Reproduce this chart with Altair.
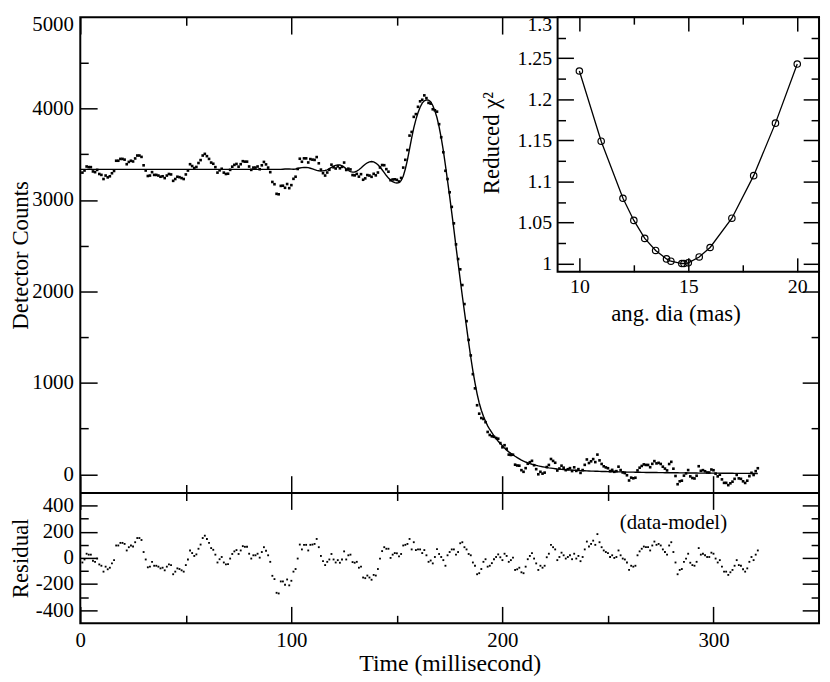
import altair as alt
import pandas as pd

FONT = "Liberation Serif"

# ---------------- data ----------------
# residual (data - model), one sample per millisecond starting at t = 1 ms
RESID = [
    -35, -12, 32, 25, 25, -22, -30, -5, -50, -60,
    -105, -67, -87, -75, -42, -17, 95, 95, 115, 115,
    107, 57, 82, 95, 87, 120, 152, 152, 137, 45,
    -12, -72, -67, -30, -60, -60, -67, -80, -75, -95,
    -67, -50, -55, -125, -105, -80, -85, -95, -105, -55,
    -12, 57, 37, 15, 27, 70, 102, 152, 170, 145,
    115, 75, 62, 25, -35, -10, 7, -35, -50, -47,
    -5, 30, 50, 60, 30, 57, 90, 85, 85, 32,
    -5, 20, 20, 32, 2, 45, 82, 55, 20, -30,
    -137, -162, -267, -272, -180, -180, -205, -165, -210, -175,
    -105, -85, -5, 102, 65, 100, 100, 57,
    100, 102, 107, 145, 82, 15, -25, -55, -30, -12,
    30, -12, -35, -17, -37, -12, 50, -12, 20, 25,
    -32, -37, -30, -75, -67, -150, -155, -135, -150, -167,
    -130, -135, -85, -5, 52, 82, 70, 70, 0, 25,
    37, 35, 12, 30, 95, 100, 107, 145, 65, 120,
    60, 65, 65, 37, 60, 20, -30, -20, -42, 7,
    67, 30, 7, -17, -60, 20, 45, 65, 65, 25,
    45, 112, 120, 82, 65, 30, 20, -35, -60, -125,
    -117, -85, -30, -10, -67, -60, -40, -10, 7, 27,
    5, -17, 32, 15, -30, -17, 2, -92, -87, -75,
    -110, -117, -67, -10, 15, 37, -5,
    -42, -92, -60, -75, -60, 5, 32, 100, 82, 65,
    -17, 7, 40, 20, -5, 7, 20, -10, 32, -5,
    15, -25, 7, 65, 125, 87, 107, 132, 100, 182,
    120, 82, 57, 45, 37, 7, 20, 0, 7, 57,
    20, -5, -12, -35, -92, -60, -67, -60, 20, 50,
    70, 87, 82, 82, 57, 95, 125, 100, 107, 95,
    65, 45, 25, 95, 120, 45, -35, -125, -92, -85,
    -30, -5, 32, -37, -55, -60, -30, 75, 25, 32,
    20, 7, 7, 40, 32, -5, -35, -17, -67, -105,
    -105, -130, -110, -92, -60, -17, -55, -60, -87, -105,
    -80, -30, 7, -17, 25, 57,
]

# model light curve, one value per millisecond starting at t = 0 ms
MODEL = [
    3335, 3335, 3335, 3335, 3335, 3335, 3335, 3335, 3335, 3335,
    3335, 3335, 3335, 3335, 3335, 3335, 3335, 3335, 3335, 3335,
    3335, 3335, 3335, 3335, 3335, 3335, 3335, 3335, 3335, 3335,
    3335, 3335, 3335, 3335, 3335, 3335, 3335, 3335, 3335, 3335,
    3335, 3335, 3335, 3335, 3335, 3335, 3335, 3335, 3335, 3335,
    3335, 3335, 3335, 3335, 3335, 3335, 3335, 3335, 3335, 3335,
    3335, 3335, 3335, 3335, 3335, 3335, 3335, 3335, 3335, 3335,
    3335, 3335, 3335, 3335, 3335, 3335, 3335, 3335, 3335, 3335,
    3335, 3335, 3335, 3335, 3335, 3335, 3335, 3335, 3335, 3335,
    3335, 3335, 3335, 3335, 3335, 3335, 3337, 3339, 3340, 3340,
    3338, 3337, 3340, 3345, 3350, 3354, 3356, 3356, 3354, 3348,
    3340, 3332, 3325, 3320, 3318, 3319, 3323, 3331, 3343, 3357,
    3370, 3380, 3385, 3384, 3375, 3360, 3341, 3323, 3310, 3305,
    3307, 3316, 3331, 3350, 3372, 3392, 3408, 3418, 3421, 3417,
    3405, 3386, 3361, 3331, 3299, 3268, 3240, 3217, 3200, 3190,
    3186, 3191, 3212, 3260, 3340, 3440, 3560, 3680, 3790, 3880,
    3955, 4015, 4060, 4085, 4095, 4093, 4075, 4035, 3975, 3900,
    3800, 3680, 3540, 3380, 3210, 3040, 2860, 2680, 2490, 2310,
    2130, 1950, 1780, 1610, 1440, 1280, 1130, 1000, 880, 780,
    700, 635, 580, 530, 490, 455, 420, 390, 362, 336,
    312, 286, 264, 245, 228, 212, 197, 183, 169, 155,
    144, 134, 125, 117, 110, 104, 98, 92, 87, 82,
    78, 74, 70, 67, 64, 61, 58, 56, 54, 52,
    50, 48, 47, 45, 44, 42, 41, 40, 39, 38,
    37, 36, 35, 34, 33, 33, 32, 31, 30, 30,
    29, 28, 28, 27, 27, 26, 26, 25, 25, 24,
    24, 23, 23, 22, 22, 22, 21, 21, 20, 20,
    20, 19, 19, 19, 18, 18, 18, 17, 17, 17,
    16, 16, 16, 16, 15, 15, 15, 15, 14, 14,
    14, 14, 14, 13, 13, 13, 13, 13, 12, 12,
    12, 12, 12, 12, 11, 11, 11, 11, 11, 11,
    10, 10, 10, 10, 10, 10, 10, 9, 9, 9,
    9, 9,
]

# inset: reduced chi^2 versus angular diameter
ANG_DIA = [10, 11, 12, 12.5, 13, 13.5, 14, 14.2, 14.7, 14.8, 15, 15.5, 16, 17, 18, 19, 20]
RED_CHI2 = [1.2345, 1.149, 1.0795, 1.0525, 1.0306, 1.0159, 1.0056, 1.0028, 1.0000, 1.0000,
            1.0008, 1.008, 1.0195, 1.0552, 1.107, 1.171, 1.243]

NOTE_T = [281]
NOTE_R = [270]
NOTE_TXT = ["(data-model)"]

# axis ticks / labels
X_LABELS = [0, 100, 200, 300]
X_TICKS = [0, 50, 100, 150, 200, 250, 300]
MAIN_Y_LABELS = [0, 1000, 2000, 3000, 4000, 5000]
MAIN_Y_TICKS = [0, 500, 1000, 1500, 2000, 2500, 3000, 3500, 4000, 4500]
RES_Y_LABELS = [-400, -200, 0, 200, 400]
RES_Y_TICKS = [-400, -300, -200, -100, 0, 100, 200, 300, 400]
IN_X_LABELS = [10, 15, 20]
IN_X_TICKS = [10, 12.5, 15, 17.5, 20]
IN_Y_LABELS = [1, 1.05, 1.1, 1.15, 1.2, 1.25, 1.3]
IN_Y_TICKS = [1, 1.025, 1.05, 1.075, 1.1, 1.125, 1.15, 1.175, 1.2, 1.225, 1.25, 1.275]

# ---------------- layout constants ----------------
PAD_L = 73
PAD_T = 6
W = 746          # plot width
H_MAIN = 480     # height of main panel
H_ALL = 612      # main + residual panel
IN_X0 = 482      # inset left edge (px inside plot)
IN_H = 257       # inset bottom edge (px inside plot)

# ---------------- tables ----------------
times = list(range(1, len(RESID) + 1))
counts = [MODEL[t] + r for t, r in zip(times, RESID)]
data_df = pd.DataFrame({"t": times, "counts": counts, "resid": RESID})
model_df = pd.DataFrame({"t": list(range(len(MODEL))), "model": MODEL})
inset_df = pd.DataFrame({"ang": ANG_DIA, "chi": RED_CHI2})
frame_df = pd.DataFrame({"x0": [9], "x1": [21], "y0": [0.99], "y1": [1.3]})
note_df = pd.DataFrame({"t": NOTE_T, "r": NOTE_R, "txt": NOTE_TXT})

# ---------------- scales ----------------
xs_main = alt.Scale(domain=[0, 350], nice=False, zero=False)
ys_main = alt.Scale(domain=[-200, 5000], range=[H_MAIN, 0], nice=False, zero=False)
ys_res = alt.Scale(domain=[-500, 500], range=[H_ALL, H_MAIN], nice=False, zero=False)
xs_in = alt.Scale(domain=[9, 21], range=[IN_X0, W], nice=False, zero=False)
ys_in = alt.Scale(domain=[0.99, 1.3], range=[IN_H, 0], nice=False, zero=False)

T_X = "datum.value % 100 === 0"
T_MY = "datum.value % 1000 === 0"
T_RY = "datum.value % 200 === 0"
T_IX = "datum.value % 5 === 0"
T_IY = "abs(datum.value * 20 - round(datum.value * 20)) < 0.001"


def tick_axis(orient, offset, values, test, major, minor, zindex=0, domain=False):
    return alt.Axis(
        orient=orient, offset=offset, values=values, labels=False, ticks=True,
        domain=domain, domainColor="black", domainWidth=2, grid=False, title="",
        tickColor="black", tickWidth=1.5,
        tickSize={"condition": {"test": test, "value": major}, "value": minor},
        zindex=zindex,
    )


def label_axis(orient, values, size, pad, title, tsize, tx, ty, offset=0, top_value=None):
    vertical = orient in ("left", "right")
    extra = {}
    if top_value is not None:
        extra["labelOffset"] = {"condition": {"test": "datum.value === %s" % top_value, "value": 7},
                                "value": 0}
    return alt.Axis(
        orient=orient, offset=offset, values=values, ticks=False, tickSize=0,
        domain=False, grid=False, labelExpr="'' + datum.value",
        labelFont=FONT, labelFontSize=size, labelColor="black", labelPadding=pad,
        labelFlush=False, labelOverlap=False,
        title=title, titleFont=FONT, titleFontSize=tsize, titleFontWeight="normal",
        titleColor="black", titleX=tx, titleY=ty, titleAngle=270 if vertical else 0,
        titleAlign="center", titleBaseline="middle", **extra,
    )


# ---------------- main panel ----------------
main_pts = alt.Chart(data_df).mark_square(size=7, color="black", opacity=1).encode(
    x=alt.X("t:Q", scale=xs_main, axis=tick_axis("top", -H_MAIN, X_TICKS, T_X, 17, 8, domain=True)),
    y=alt.Y("counts:Q", scale=ys_main,
            axis=label_axis("left", MAIN_Y_LABELS, 21, 7, "Detector Counts", 23, 21 - (PAD_L + 8),
                            H_MAIN / 2, top_value=5000)),
)

main_model = alt.Chart(model_df).mark_line(color="black", strokeWidth=1.4).encode(
    x=alt.X("t:Q", scale=xs_main, axis=tick_axis("bottom", -H_ALL, X_TICKS, T_X, 17, 8)),
    y=alt.Y("model:Q", scale=ys_main, axis=tick_axis("right", -W, MAIN_Y_TICKS, T_MY, 17, 8)),
)

main_right = alt.Chart(data_df).mark_point(opacity=0).encode(
    x=alt.X("t:Q", scale=xs_main, axis=None),
    y=alt.Y("counts:Q", scale=ys_main, axis=tick_axis("left", -W, MAIN_Y_TICKS, T_MY, 17, 8)),
)

# ---------------- residual panel ----------------
res_pts = alt.Chart(data_df).mark_square(size=3.5, color="black", opacity=1).encode(
    x=alt.X("t:Q", scale=xs_main,
            axis=label_axis("bottom", X_LABELS, 21, 6, "Time (millisecond)", 24, W / 2, 41)),
    y=alt.Y("resid:Q", scale=ys_res,
            axis=label_axis("left", RES_Y_LABELS, 21, 7, "Residual", 23, 21 - (PAD_L + 8),
                            (H_MAIN + H_ALL) / 2)),
)

res_ticks = alt.Chart(data_df).mark_point(opacity=0).encode(
    x=alt.X("t:Q", scale=xs_main, axis=tick_axis("top", -H_ALL, X_TICKS, T_X, 17, 8)),
    y=alt.Y("resid:Q", scale=ys_res, axis=tick_axis("right", -W, RES_Y_TICKS, T_RY, 17, 8)),
)

res_note = alt.Chart(note_df).mark_text(font=FONT, fontSize=21, color="black",
                                        align="center", baseline="middle").encode(
    x=alt.X("t:Q", scale=xs_main, axis=tick_axis("bottom", -(H_ALL - H_MAIN), X_TICKS, T_X, 17, 8)),
    y=alt.Y("r:Q", scale=ys_res, axis=tick_axis("left", -W, RES_Y_TICKS, T_RY, 17, 8)),
    text="txt:N",
)

# ---------------- inset ----------------
in_frame = alt.Chart(frame_df).mark_rect(fill="white", stroke="black", strokeWidth=2).encode(
    x=alt.X("x0:Q", scale=xs_in,
            axis=label_axis("bottom", IN_X_LABELS, 20, 5, "ang. dia (mas)", 23, 601, 42,
                            offset=-(H_ALL - IN_H))),
    x2="x1:Q",
    y=alt.Y("y0:Q", scale=ys_in,
            axis=label_axis("left", IN_Y_LABELS, 20, 6, "Reduced χ²", 23, -67, IN_H / 2 - 2,
                            offset=-IN_X0, top_value=1.3)),
    y2="y1:Q",
)

in_line = alt.Chart(inset_df).mark_line(color="black", strokeWidth=1.3).encode(
    x=alt.X("ang:Q", scale=xs_in, axis=tick_axis("top", -IN_H, IN_X_TICKS, T_IX, 14, 7, zindex=1)),
    y=alt.Y("chi:Q", scale=ys_in, axis=tick_axis("right", -(W - IN_X0), IN_Y_TICKS, T_IY, 16, 8, zindex=1)),
)

in_pts = alt.Chart(inset_df).mark_point(shape="circle", filled=False, size=42, color="black",
                                        strokeWidth=1.2, opacity=1).encode(
    x=alt.X("ang:Q", scale=xs_in, axis=tick_axis("bottom", -H_ALL, IN_X_TICKS, T_IX, 14, 7, zindex=1)),
    y=alt.Y("chi:Q", scale=ys_in, axis=tick_axis("left", -W, IN_Y_TICKS, T_IY, 16, 8, zindex=1)),
)

chart = (
    alt.layer(main_pts, main_model, main_right, res_pts, res_ticks, res_note,
              in_frame, in_line, in_pts)
    .resolve_scale(x="independent", y="independent")
    .properties(width=W, height=H_ALL,
                autosize=alt.AutoSizeParams(type="none"),
                padding={"left": PAD_L, "top": PAD_T, "right": 3, "bottom": 56},
                background="white")
    .configure_view(stroke="black", strokeWidth=2)
)

chart.save("out.html", embed_options={"renderer": "svg", "actions": False})
